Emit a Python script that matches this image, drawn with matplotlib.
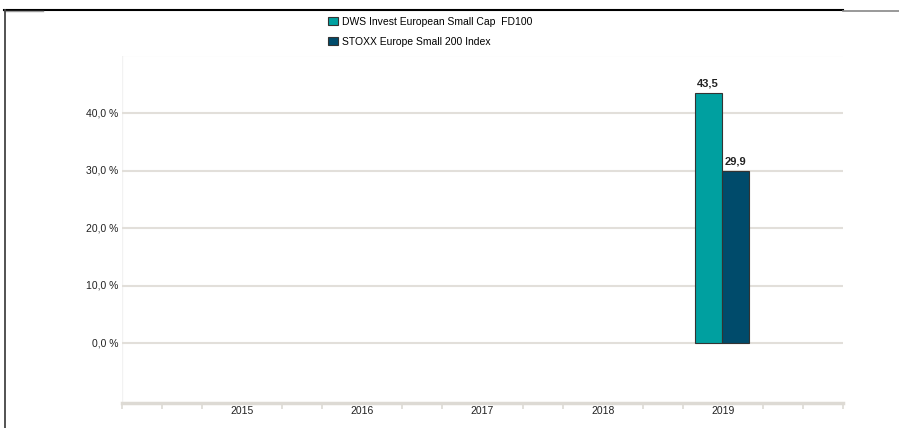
import matplotlib
matplotlib.use("Agg")
import matplotlib.pyplot as plt
from matplotlib.lines import Line2D
import numpy as np

plt.rcParams['font.family'] = ['Liberation Sans', 'DejaVu Sans']

years = ["2015", "2016", "2017", "2018", "2019"]
series_names = ["DWS Invest European Small Cap  FD100", "STOXX Europe Small 200 Index"]
dws = [None, None, None, None, 43.5]
stoxx = [None, None, None, None, 29.9]
colors = ["#00A0A0", "#004B6B"]
yticks = [0, 10, 20, 30, 40, 50]

W, H = 899, 428
fig = plt.figure(figsize=(W/100, H/100), dpi=100)
ax = fig.add_axes([122/W, (H-403)/H, 721/W, (403-55.5)/H])

x = np.arange(len(years))
bw = 0.225
for i, (vals, c, name) in enumerate(zip([dws, stoxx], colors, series_names)):
    xs = [xi + (i - 0.5) * bw - 0.01 for xi, v in zip(x, vals) if v is not None]
    vs = [v for v in vals if v is not None]
    ax.bar(xs, vs, width=bw, color=c, edgecolor="#333333", linewidth=0.8, label=name, zorder=3)
    for xx, v in zip(xs, vs):
        ax.text(xx, v + 0.8, f"{v:.1f}".replace(".", ","), ha="center", va="bottom",
                fontsize=8, fontweight="bold", color="#222222", zorder=4)

ax.set_xlim(-1, len(years))
ax.set_ylim(-10.43, 50)
for t in yticks:
    ax.axhline(t, color="#E2DFDA", linewidth=1.5, zorder=1)
for t in yticks[:-1]:
    ax.text(-1.03, t, f"{t:.1f}".replace(".", ",") + " %", ha="right", va="center",
            fontsize=7.5, color="#222222", transform=ax.transData)

for s in ax.spines.values():
    s.set_visible(False)
ax.spines['bottom'].set_visible(True)
ax.spines['bottom'].set_color("#DDDAD4")
ax.spines['bottom'].set_linewidth(2.5)
ax.axvline(-1, color="#F2F2F2", linewidth=1, zorder=0)

minor = [k / 3.0 - 1 for k in range(0, 3 * (len(years) + 1) + 1) if k % 3 != 0 or k == 0 or k == 3 * (len(years) + 1)]
ax.set_xticks(minor, minor=True)
ax.set_xticks(x)
ax.set_xticklabels(years)
ax.tick_params(axis='x', which='major', length=0, pad=2, labelsize=7.5, labelcolor="#222222")
ax.tick_params(axis='x', which='minor', length=4, width=1.2, color="#DDDAD4")
ax.set_yticks([])

handles = [plt.Rectangle((0, 0), 1, 1, facecolor=c, edgecolor="#333333", linewidth=0.8) for c in colors]
fig.legend(handles, series_names, loc="upper left", bbox_to_anchor=(323/W, 1 - 11.5/H),
           frameon=False, fontsize=7.5, handlelength=0.9, handleheight=0.9,
           handletextpad=0.45, labelspacing=0.95, borderpad=0)

# frame lines
fig.add_artist(Line2D([4/W, 843/W], [1 - 9.5/H, 1 - 9.5/H], color="black", linewidth=1.5))
fig.add_artist(Line2D([4/W, 43/W], [1 - 11/H, 1 - 11/H], color="#999999", linewidth=1))
fig.add_artist(Line2D([843/W, 1], [1 - 10.5/H, 1 - 10.5/H], color="#888888", linewidth=1.2))
fig.add_artist(Line2D([4.5/W, 4.5/W], [1 - 9.5/H, 0], color="#444444", linewidth=1.3))

fig.savefig("out.png", dpi=100)
